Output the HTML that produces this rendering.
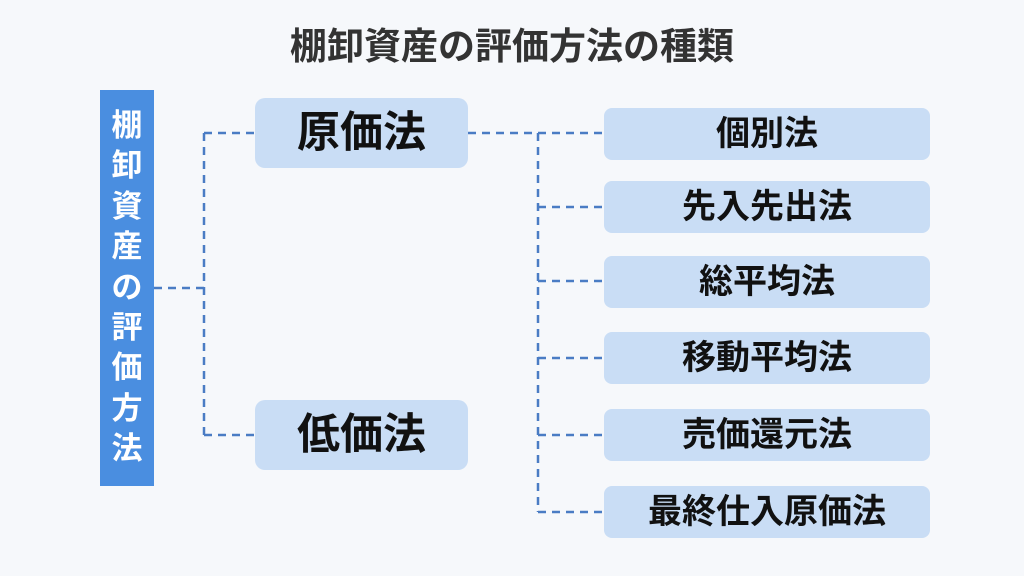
<!DOCTYPE html>
<html><head><meta charset="utf-8"><style>
body{margin:0;width:1024px;height:576px;background:#f6f8fb;position:relative;overflow:hidden;font-family:"Liberation Sans","Noto Sans CJK JP",sans-serif;font-weight:bold}
.t{position:absolute;left:0;width:1024px;top:25px;text-align:center;font-size:37px;line-height:44px;color:#333}
.l{position:absolute;left:100px;top:90px;width:54px;height:396px;background:#4a8ee0;color:#fff;font-size:31px;line-height:40.4px;text-align:center;padding-top:16px;box-sizing:border-box}
.b{position:absolute;left:255px;width:213px;height:70px;background:#c9ddf5;border-radius:10px;font-size:43px;line-height:70px;text-align:center;color:#111}
.r{position:absolute;left:604px;width:326px;height:52px;background:#c9ddf5;border-radius:8px;font-size:34px;line-height:52px;text-align:center;color:#111}
svg{position:absolute;left:0;top:0}
</style></head><body>
<div class="t">棚卸資産の評価方法の種類</div>
<svg width="1024" height="576"><g stroke="#4a7cc4" stroke-width="2.5" stroke-dasharray="8,6" fill="none">
<path d="M154 288H204M204 133V435M204 133H255M204 435H255"/>
<path d="M468 133H604M538 133V512M538 207H604M538 281H604M538 358H604M538 435H604M538 512H604"/>
</g></svg>
<div class="l">棚<br>卸<br>資<br>産<br>の<br>評<br>価<br>方<br>法</div>
<div class="b" style="top:98px">原価法</div>
<div class="b" style="top:400px">低価法</div>
<div class="r" style="top:108px">個別法</div>
<div class="r" style="top:181px">先入先出法</div>
<div class="r" style="top:256px">総平均法</div>
<div class="r" style="top:332px">移動平均法</div>
<div class="r" style="top:409px">売価還元法</div>
<div class="r" style="top:486px">最終仕入原価法</div>
</body></html>
